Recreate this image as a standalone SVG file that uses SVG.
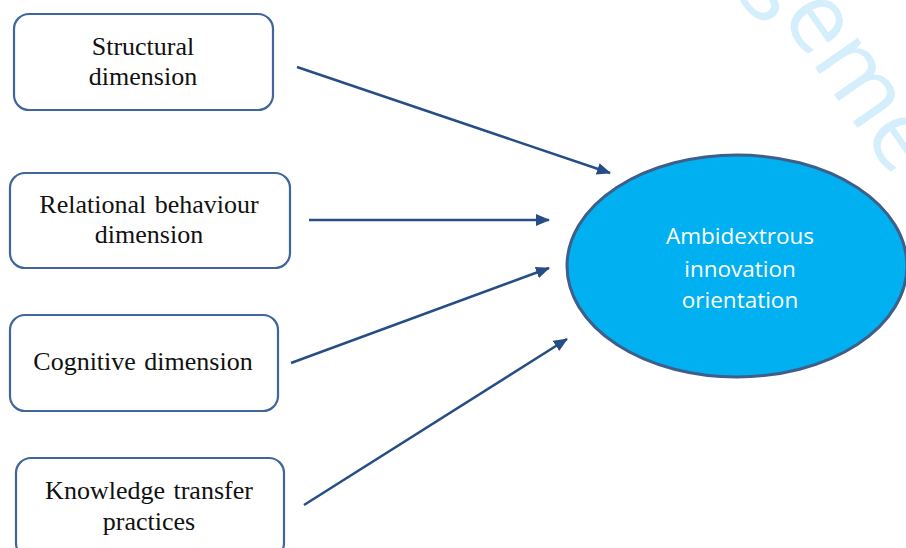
<svg xmlns="http://www.w3.org/2000/svg" width="906" height="548" viewBox="0 0 906 548">
<style>
.box{fill:#ffffff;stroke:#41679a;stroke-width:2.2}
.lbl{font-family:"Liberation Serif","Times New Roman",serif;font-size:26px;fill:#111111;text-anchor:middle}
.ws{word-spacing:2px}
.el{fill:#00b0f0;stroke:#3e5f8a;stroke-width:3}
.elt{font-family:"Open Sans","Liberation Sans",sans-serif;font-size:22.5px;fill:#ffffff;text-anchor:middle}
.conn{stroke:#264d85;stroke-width:2.5;fill:none;marker-end:url(#ah)}
.wm{font-family:"Open Sans","Liberation Sans",sans-serif;font-size:97px;fill:#d4eefb}
</style>
<defs>
<marker id="ah" markerUnits="userSpaceOnUse" markerWidth="14" markerHeight="12" refX="13" refY="6" orient="auto">
<path d="M0,0 L14,6 L0,12 Z" fill="#264d85"/>
</marker>
</defs>
<rect width="906" height="548" fill="#ffffff"/>
<text class="wm" transform="translate(749,-27) rotate(55)">geme</text>
<g id="connectors">
<line class="conn" x1="297" y1="67" x2="610" y2="173"/>
<line class="conn" x1="309" y1="220" x2="549" y2="220"/>
<line class="conn" x1="291" y1="363" x2="549" y2="268"/>
<line class="conn" x1="304" y1="505" x2="567" y2="339"/>
</g>
<g id="n1">
<rect class="box" x="14" y="14" width="259" height="96" rx="15"/>
<text class="lbl" x="143" y="55">Structural</text>
<text class="lbl" x="143" y="85">dimension</text>
</g>
<g id="n2">
<rect class="box" x="10" y="173" width="280" height="95" rx="15"/>
<text class="lbl ws" x="149" y="213">Relational behaviour</text>
<text class="lbl" x="149" y="243">dimension</text>
</g>
<g id="n3">
<rect class="box" x="10" y="315" width="268" height="96" rx="15"/>
<text class="lbl ws" x="143" y="370">Cognitive dimension</text>
</g>
<g id="n4">
<rect class="box" x="16" y="458" width="268" height="100" rx="15"/>
<text class="lbl ws" x="149" y="499">Knowledge transfer</text>
<text class="lbl" x="149" y="530">practices</text>
</g>
<g id="n5">
<ellipse class="el" cx="737" cy="266" rx="170" ry="111"/>
<text class="elt" x="740" y="244">Ambidextrous</text>
<text class="elt" x="740" y="277">innovation</text>
<text class="elt" x="740" y="308">orientation</text>
</g>
</svg>
